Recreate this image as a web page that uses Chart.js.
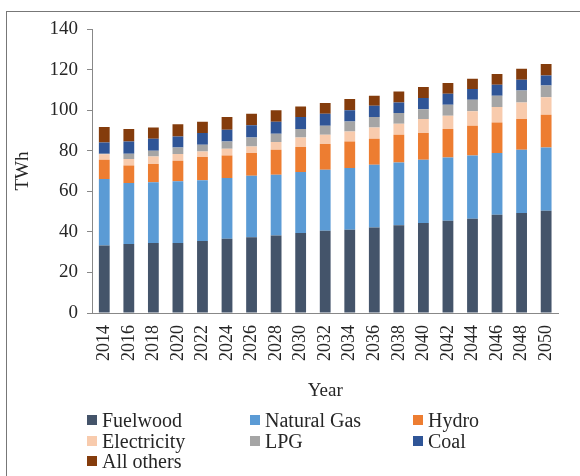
<!DOCTYPE html>
<html>
<head>
<meta charset="utf-8">
<script src="https://cdn.jsdelivr.net/npm/chart.js@4"></script>
<style>
  body { margin: 0; background: #fff; }
  .wrap { position: relative; width: 580px; height: 476px; overflow: hidden; }
  .frame { position: absolute; left: 6px; top: 11px; width: 600px; height: 500px;
           border-left: 1px solid #777; border-top: 1px solid #777; }
  canvas { position: absolute; left: 0; top: 0; }
  .legend { position: absolute; left: 87px; top: 410px;
            display: grid; grid-template-columns: 163px 163px 163px;
            font: 20px "Liberation Serif", serif; color: #262626; line-height: 20.5px; }
  .legend span.item { display: flex; align-items: center; white-space: nowrap; }
  .legend i { display: inline-block; width: 10px; height: 10px; margin-right: 5px; }
</style>
</head>
<body>
<div class="wrap">
  <div class="frame"></div>
  <canvas id="chart" width="580" height="476"></canvas>
  <div class="legend" id="legend"></div>
</div>
<script>
// Data (TWh)
const years = ['2014', '2016', '2018', '2020', '2022', '2024', '2026', '2028', '2030', '2032',
               '2034', '2036', '2038', '2040', '2042', '2044', '2046', '2048', '2050'];
const fuelwood    = [33.3, 34.0, 34.5, 34.5, 35.5, 36.6, 37.3, 38.2, 39.4, 40.6, 41.1, 42.2, 43.2, 44.4, 45.5, 46.5, 48.4, 49.3, 50.4];
const naturalGas  = [32.7, 30.1, 29.9, 30.4, 29.9, 29.9, 30.4, 30.0, 30.1, 30.0, 30.4, 30.9, 31.0, 31.2, 31.2, 31.2, 30.5, 31.2, 31.2];
const hydro       = [9.6, 8.6, 9.0, 10.2, 11.5, 11.2, 11.2, 12.3, 12.3, 12.7, 13.1, 12.8, 13.7, 13.1, 14.0, 14.6, 15.0, 15.1, 16.1];
const electricity = [2.6, 3.2, 3.8, 3.3, 2.7, 3.3, 3.2, 3.8, 4.7, 4.6, 4.9, 5.6, 5.4, 6.9, 6.5, 7.1, 7.6, 8.2, 8.6];
const lpg         = [0.3, 2.6, 2.8, 3.2, 3.3, 3.6, 4.4, 4.1, 4.2, 4.4, 4.9, 5.1, 5.3, 4.9, 5.5, 5.7, 5.6, 5.9, 5.9];
const coal        = [5.6, 6.1, 5.9, 5.4, 5.8, 5.7, 6.0, 5.9, 5.9, 5.9, 5.5, 5.6, 5.2, 5.5, 5.4, 5.3, 5.4, 5.3, 4.9];
const allOthers   = [7.6, 6.1, 5.6, 6.0, 5.6, 6.3, 5.7, 5.6, 5.2, 5.3, 5.6, 4.9, 5.4, 5.4, 5.3, 5.1, 5.3, 5.4, 5.6];

const series = [
    { label: 'Fuelwood', data: fuelwood, color: '#44546a' },
    { label: 'Natural Gas', data: naturalGas, color: '#5b9bd5' },
    { label: 'Hydro', data: hydro, color: '#ed7d31' },
    { label: 'Electricity', data: electricity, color: '#f8cbad' },
    { label: 'LPG', data: lpg, color: '#a5a5a5' },
    { label: 'Coal', data: coal, color: '#2f5597' },
    { label: 'All others', data: allOthers, color: '#843c0c' }
];

Chart.defaults.font.family = '"Liberation Serif", serif';
Chart.defaults.color = '#262626';

const chart = new Chart(document.getElementById('chart'), {
    type: 'bar',
    data: {
        labels: years,
        datasets: series.map(s => ({
            label: s.label,
            data: s.data,
            backgroundColor: s.color,
            borderWidth: 0,
            categoryPercentage: 1,
            barPercentage: 0.44
        }))
    },
    options: {
        responsive: false,
        animation: false,
        layout: { padding: { top: 29, right: 10, bottom: 74, left: 0 } },
        plugins: {
            legend: { display: false },
            tooltip: { enabled: false }
        },
        scales: {
            x: {
                stacked: true,
                afterFit: scale => { scale.height = 89; },
                grid: { drawOnChartArea: false, drawTicks: false },
                border: { color: '#888', width: 1 },
                ticks: { autoSkip: false, minRotation: 90, maxRotation: 90, padding: 12, font: { size: 18 } },
                title: { display: true, text: 'Year', font: { size: 19 }, padding: 0 }
            },
            y: {
                stacked: true,
                min: 0,
                max: 140,
                afterFit: scale => { scale.width = 92; },
                grid: { drawOnChartArea: false, drawTicks: true, tickLength: 5, color: '#888' },
                border: { color: '#888', width: 1 },
                ticks: { stepSize: 20, padding: 9, font: { size: 19 } },
                title: { display: true, text: 'TWh', font: { size: 19 }, padding: { top: 12, bottom: 0 } }
            }
        }
    }
});

// Legend in three columns, like the original
const legend = document.getElementById('legend');
chart.data.datasets.forEach(ds => {
    const item = document.createElement('span');
    item.className = 'item';
    const sw = document.createElement('i');
    sw.style.background = ds.backgroundColor;
    item.appendChild(sw);
    item.appendChild(document.createTextNode(ds.label));
    legend.appendChild(item);
});
</script>
</body>
</html>
